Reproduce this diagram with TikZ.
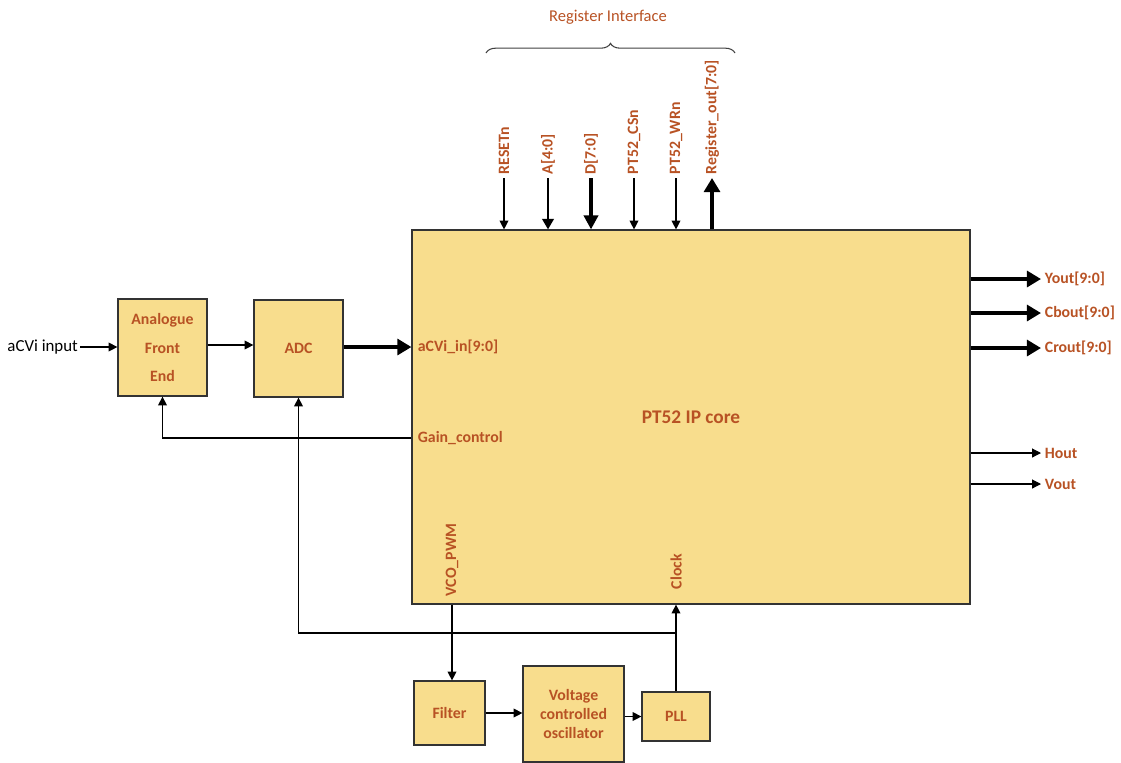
\documentclass[tikz,border=0pt]{standalone}
\usepackage{fontspec}
\setmainfont{Carlito}
\usepackage{xcolor}
\definecolor{blockfill}{RGB}{248,221,141}
\definecolor{rust}{RGB}{184,82,36}
\usetikzlibrary{arrows.meta,positioning,decorations.pathreplacing}

\begin{document}
\begin{tikzpicture}[x=0.02cm, y=-0.02cm,
    block/.style={draw=black!80, line width=0.7pt, fill=blockfill, inner sep=0pt, align=center, text=rust, font=\fontsize{9}{11}\selectfont\bfseries},
    lbl/.style={text=rust, font=\fontsize{9}{11}\selectfont\bfseries, inner sep=2pt},
    sig/.style={line width=0.6pt, -{Triangle[length=5pt,width=5pt]}},
    bus/.style={line width=2.2pt, -{Triangle[length=8pt,width=9pt]}}]
    \useasboundingbox (0,0) rectangle (1121,762);

    % Blocks
    \node[block, minimum width=11.16cm, minimum height=7.48cm, font=\fontsize{11}{13}\selectfont\bfseries] (core) at (691,417) {PT52 IP core};
    \node[block, minimum width=1.78cm, minimum height=1.94cm, font=\fontsize{9}{16.4}\selectfont\bfseries] (afe) at (162.5,347.5) {Analogue\\Front\\End};
    \node[block, minimum width=1.78cm, minimum height=1.94cm] (adc) at (298.5,348.5) {ADC};
    \node[block, minimum width=1.42cm, minimum height=1.28cm] (filter) at (449.5,713) {Filter};
    \node[block, minimum width=2.02cm, minimum height=1.92cm, font=\fontsize{9}{10.8}\selectfont\bfseries] (vco) at (573.5,714) {Voltage\\controlled\\oscillator};
    \node[block, minimum width=1.36cm, minimum height=0.98cm] (pll) at (676,716.5) {PLL};

    % Input chain
    \node[anchor=east, inner sep=1pt, font=\fontsize{9.6}{11}\selectfont] (inp) at (80,347) {aCVi input};
    \draw[sig] (inp.east) -- (inp.east -| afe.west);
    \draw[sig] (afe.east |- 0,345) -- (adc.west |- 0,345);
    \node[lbl, anchor=west] (acvin) at (414,347) {aCVi\_in[9:0]};
    \draw[bus] (adc.east |- acvin.west) -- (core.west |- acvin.west);

    % Gain control feedback
    \node[lbl, anchor=west] (gain) at (414,438) {Gain\_control};
    \draw[sig] (core.west |- gain.west) -| (afe.south);

    % Register interface
    \node[lbl, rotate=90, anchor=west] (rst) at (504,178) {RESETn};
    \node[lbl, rotate=90, anchor=west] (addr) at (548,178) {A[4:0]};
    \node[lbl, rotate=90, anchor=west] (data) at (591,178) {D[7:0]};
    \node[lbl, rotate=90, anchor=west] (csn) at (634,178) {PT52\_CSn};
    \node[lbl, rotate=90, anchor=west] (wrn) at (676,178) {PT52\_WRn};
    \node[lbl, rotate=90, anchor=west] (regout) at (712,178) {Register\_out[7:0]};
    \draw[sig] (rst.west) -- (rst.west |- core.north);
    \draw[line width=1.4pt, -{Triangle[length=6pt,width=6.5pt]}] (addr.west) -- (addr.west |- core.north);
    \draw[line width=2pt, -{Triangle[length=8pt,width=8pt]}] (data.west) -- (data.west |- core.north);
    \draw[sig] (csn.west) -- (csn.west |- core.north);
    \draw[sig] (wrn.west) -- (wrn.west |- core.north);
    \draw[bus] (regout.west |- core.north) -- (regout.west);
    \draw[black!75, line width=0.6pt, decorate, decoration={brace, amplitude=5.5pt}] (486,53) -- (735,53);
    \node[text=rust, font=\fontsize{9.4}{11}\selectfont] (regif) at (608,17) {Register Interface};

    % Outputs
    \node[lbl, anchor=west] (yout) at (1041,279) {Yout[9:0]};
    \node[lbl, anchor=west] (cbout) at (1041,313) {Cbout[9:0]};
    \node[lbl, anchor=west] (crout) at (1041,348) {Crout[9:0]};
    \node[lbl, anchor=west] (hout) at (1041,453) {Hout};
    \node[lbl, anchor=west] (vout) at (1041,484) {Vout};
    \draw[bus] (core.east |- yout.west) -- (yout.west);
    \draw[bus] (core.east |- cbout.west) -- (cbout.west);
    \draw[bus] (core.east |- crout.west) -- (crout.west);
    \draw[sig] (core.east |- hout.west) -- (hout.west);
    \draw[sig] (core.east |- vout.west) -- (vout.west);

    % Clock / PLL loop
    \node[lbl, rotate=90, anchor=west] (pwm) at (452,600) {VCO\_PWM};
    \node[lbl, rotate=90, anchor=west] (clk) at (676,593) {Clock};
    \draw[sig] (pwm.west |- core.south) -- (pwm.west |- filter.north);
    \draw[sig] (filter.east) -- (filter.east -| vco.west);
    \draw[sig] (vco.east |- pll.west) -- (pll.west);
    \draw[sig] (pll.north) -- (pll.north |- core.south);
    \coordinate (tap) at (676,633);
    \draw[sig] (tap) -| (adc.south);
\end{tikzpicture}
\end{document}
